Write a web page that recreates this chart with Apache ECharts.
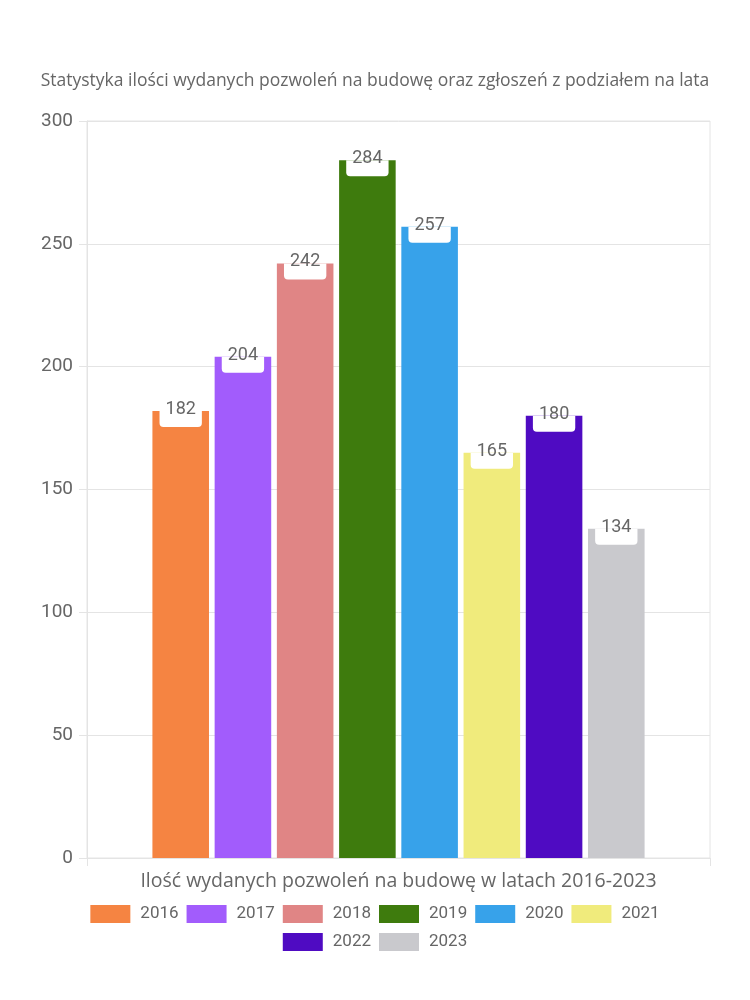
<!DOCTYPE html>
<html>
<head>
<meta charset="utf-8">
<script src="https://cdn.jsdelivr.net/npm/echarts@6/dist/echarts.min.js"></script>
<style>html,body{margin:0;padding:0;background:#fff}#c{width:750px;height:1000px}</style>
</head>
<body>
<div id="c"></div>
<script>
const titleText = 'Statystyka ilości wydanych pozwoleń na budowę oraz zgłoszeń z podziałem na lata';
const categories = ['Ilość wydanych pozwoleń na budowę w latach 2016-2023'];
const years = ['2016', '2017', '2018', '2019', '2020', '2021', '2022', '2023'];
const values = [182, 204, 242, 284, 257, 165, 180, 134];
const colors = ['#F58442', '#A25CFC', '#E08585', '#3E7B0D', '#37A2EA', '#F0EB7C', '#4F0BC2', '#C9C9CD'];
const yTicks = [0, 50, 100, 150, 200, 250, 300];

const chart = echarts.init(document.getElementById('c'), null, {renderer: 'canvas'});
const txt = '#666';
const lineC = '#e4e4e4';
const series = years.map((y, i) => ({
  name: y,
  type: 'bar',
  data: [values[i]],
  itemStyle: {color: colors[i]},
  barGap: '10%',
  barCategoryGap: '21%',
  label: {
    show: true,
    position: 'insideTop',
    distance: 0,
    color: txt,
    fontFamily: 'Roboto',
    fontSize: 18,
    lineHeight: 5,
    backgroundColor: '#fff',
    borderRadius: [0, 0, 4, 4],
    padding: [-4, 6, 15, 6]
  }
}));
const legendBase = {
  left: 'center',
  itemWidth: 40, itemHeight: 18, itemGap: 8,
  icon: 'rect',
  textStyle: {color: txt, fontFamily: 'Roboto', fontSize: 17, padding: [0, 0, 0, 5]}
};
chart.setOption({
  animation: false,
  backgroundColor: '#fff',
  color: colors,
  title: {
    text: titleText,
    left: 'center',
    top: 67,
    textStyle: {color: txt, fontFamily: 'Open Sans', fontSize: 17.5, fontWeight: 'normal'}
  },
  legend: [
    Object.assign({}, legendBase, {data: years.slice(0, 6), top: 900}),
    Object.assign({}, legendBase, {data: years.slice(6), top: 928})
  ],
  grid: {left: 87, right: 40, top: 121, bottom: 142, show: true, borderColor: lineC, borderWidth: 1},
  xAxis: {
    type: 'category',
    data: categories,
    axisLine: {show: true, lineStyle: {color: lineC}},
    axisTick: {show: true, length: 8, lineStyle: {color: lineC}},
    axisLabel: {color: txt, fontFamily: 'Open Sans', fontSize: 19.5, margin: 13}
  },
  yAxis: {
    type: 'value',
    min: yTicks[0], max: yTicks[yTicks.length - 1], interval: 50,
    axisLine: {show: true, lineStyle: {color: lineC}},
    axisTick: {show: true, length: 8, lineStyle: {color: lineC}},
    splitLine: {show: true, lineStyle: {color: lineC}},
    axisLabel: {color: txt, fontFamily: 'Roboto', fontSize: 19, margin: 14}
  },
  series: series
});
</script>
</body>
</html>
